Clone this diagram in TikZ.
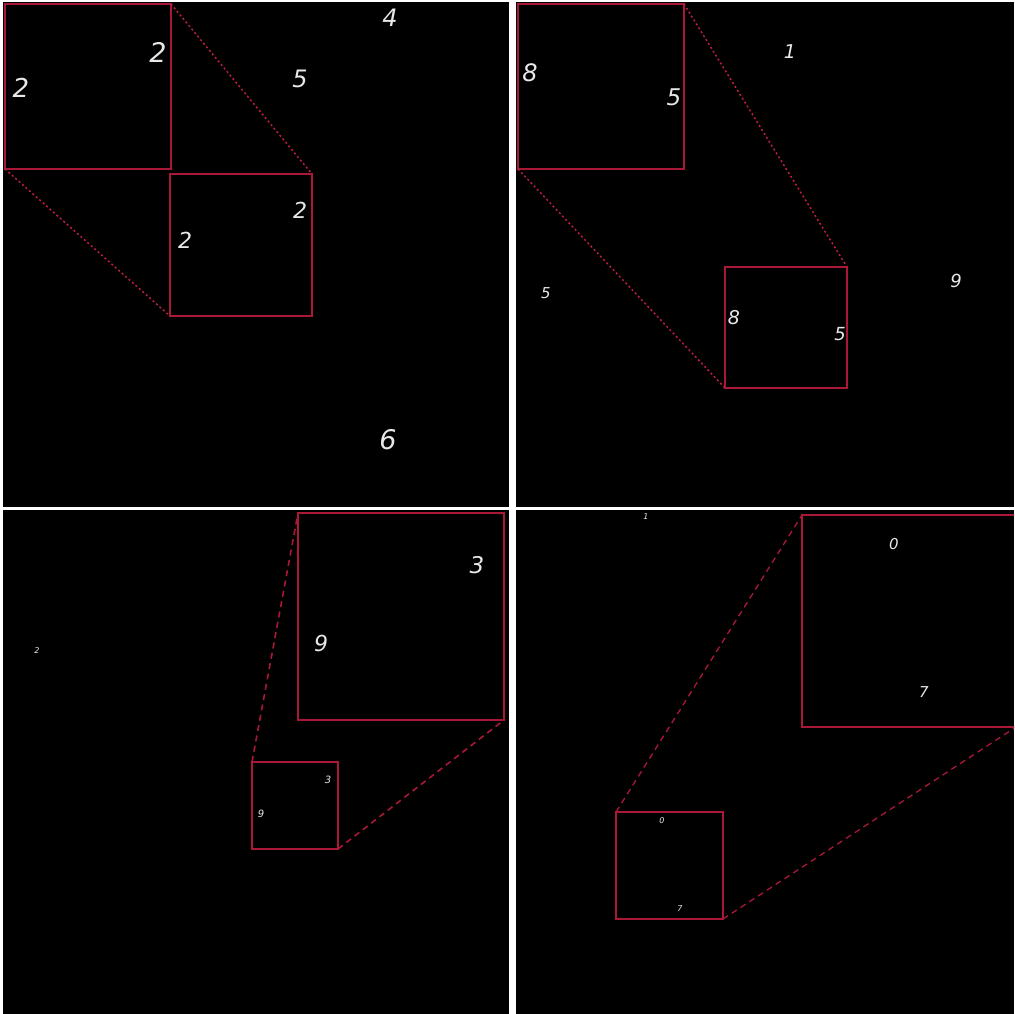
\documentclass[tikz,border=0pt]{standalone}
\usepackage{fontspec}
\setmainfont{DejaVu Sans}
\definecolor{zoomred}{RGB}{170,24,56}
\definecolor{dotred}{RGB}{190,30,64}
\definecolor{digitgray}{RGB}{232,232,232}
\begin{document}
\begin{tikzpicture}[x=1pt,y=-1pt,
  panel/.style={fill=black,draw=none},
  zoombox/.style={draw=zoomred,line width=#1,inner sep=0pt,outer sep=0pt,anchor=north west,fill=none},
  zoombox/.default=1pt,
  dotlink/.style={draw=dotred,line width=1.5pt,dash pattern=on 2pt off 2.6pt},
  dashlink/.style={draw=zoomred,line width=#1,dash pattern=on 6pt off 4.5pt},
  dashlink/.default=1.4pt,
  digit/.style={text=digitgray,inner sep=0pt,font=\fontsize{#1}{#1}\selectfont\itshape}]
\useasboundingbox (0,0) rectangle (1014,1014);
\fill[white] (0,0) rectangle (1014,1014);
% panels
\fill[panel] (3,2) rectangle (509,507);
\fill[panel] (516,2) rectangle (1014,507);
\fill[panel] (3,510) rectangle (509,1014);
\fill[panel] (516,510) rectangle (1014,1014);

% ---------- panel 1 ----------
\node[zoombox=1.5pt,minimum width=166pt,minimum height=165pt] (p1a) at (5,4) {};
\node[zoombox=1.5pt,minimum width=142pt,minimum height=142pt] (p1b) at (170,174) {};
\draw[dotlink] (p1a.north east) -- (p1b.north east);
\draw[dotlink] (p1a.south west) -- (p1b.south west);
\node[digit=26] (d1a) at (21,88) {2};
\node[digit=27] (d1b) at (158,52) {2};
\node[digit=24] (d1c) at (300,79) {5};
\node[digit=24] (d1d) at (390,18) {4};
\node[digit=27] (d1e) at (388,440) {6};
\node[digit=22] (d1f) at (185,240) {2};
\node[digit=22] (d1g) at (300,210) {2};

% ---------- panel 2 ----------
\node[zoombox=1.2pt,minimum width=166pt,minimum height=165pt] (p2a) at (518,4) {};
\node[zoombox=1.2pt,minimum width=122pt,minimum height=121pt] (p2b) at (725,267) {};
\draw[dotlink] (p2a.north east) -- (p2b.north east);
\draw[dotlink] (p2a.south west) -- (p2b.south west);
\node[digit=24] (d2a) at (530,73) {8};
\node[digit=23] (d2b) at (674,97) {5};
\node[digit=19] (d2c) at (790,52) {1};
\node[digit=15] (d2d) at (546,293) {5};
\node[digit=18] (d2e) at (956,281) {9};
\node[digit=19] (d2f) at (734,318) {8};
\node[digit=18] (d2g) at (840,334) {5};

% ---------- panel 3 ----------
\node[zoombox=1.4pt,minimum width=206pt,minimum height=207pt] (p3a) at (298,513) {};
\node[zoombox=1.4pt,minimum width=86pt,minimum height=87pt] (p3b) at (252,762) {};
\draw[dashlink=1.6pt] (p3b.north west) -- (p3a.north west);
\draw[dashlink=1.6pt] (p3b.south east) -- (p3a.south east);
\node[digit=8] (d3a) at (37,651) {2};
\node[digit=23] (d3b) at (477,565) {3};
\node[digit=22] (d3c) at (321,643) {9};
\node[digit=10] (d3d) at (328,780) {3};
\node[digit=10] (d3e) at (261,814) {9};

% ---------- panel 4 ----------
\begin{scope}
\clip (516,510) rectangle (1014,1014);
\node[zoombox=1.2pt,minimum width=214pt,minimum height=212pt] (p4a) at (802,515) {};
\node[zoombox=1.2pt,minimum width=107pt,minimum height=107pt] (p4b) at (616,812) {};
\draw[dashlink=1.3pt] (p4b.north west) -- (p4a.north west);
\draw[dashlink=1.3pt] (p4b.south east) -- (p4a.south east);
\end{scope}
\node[digit=8] (d4a) at (646,517) {1};
\node[digit=15] (d4b) at (894,544) {0};
\node[digit=15] (d4c) at (924,692) {7};
\node[digit=8] (d4d) at (662,821) {0};
\node[digit=8] (d4e) at (680,909) {7};
\end{tikzpicture}
\end{document}
